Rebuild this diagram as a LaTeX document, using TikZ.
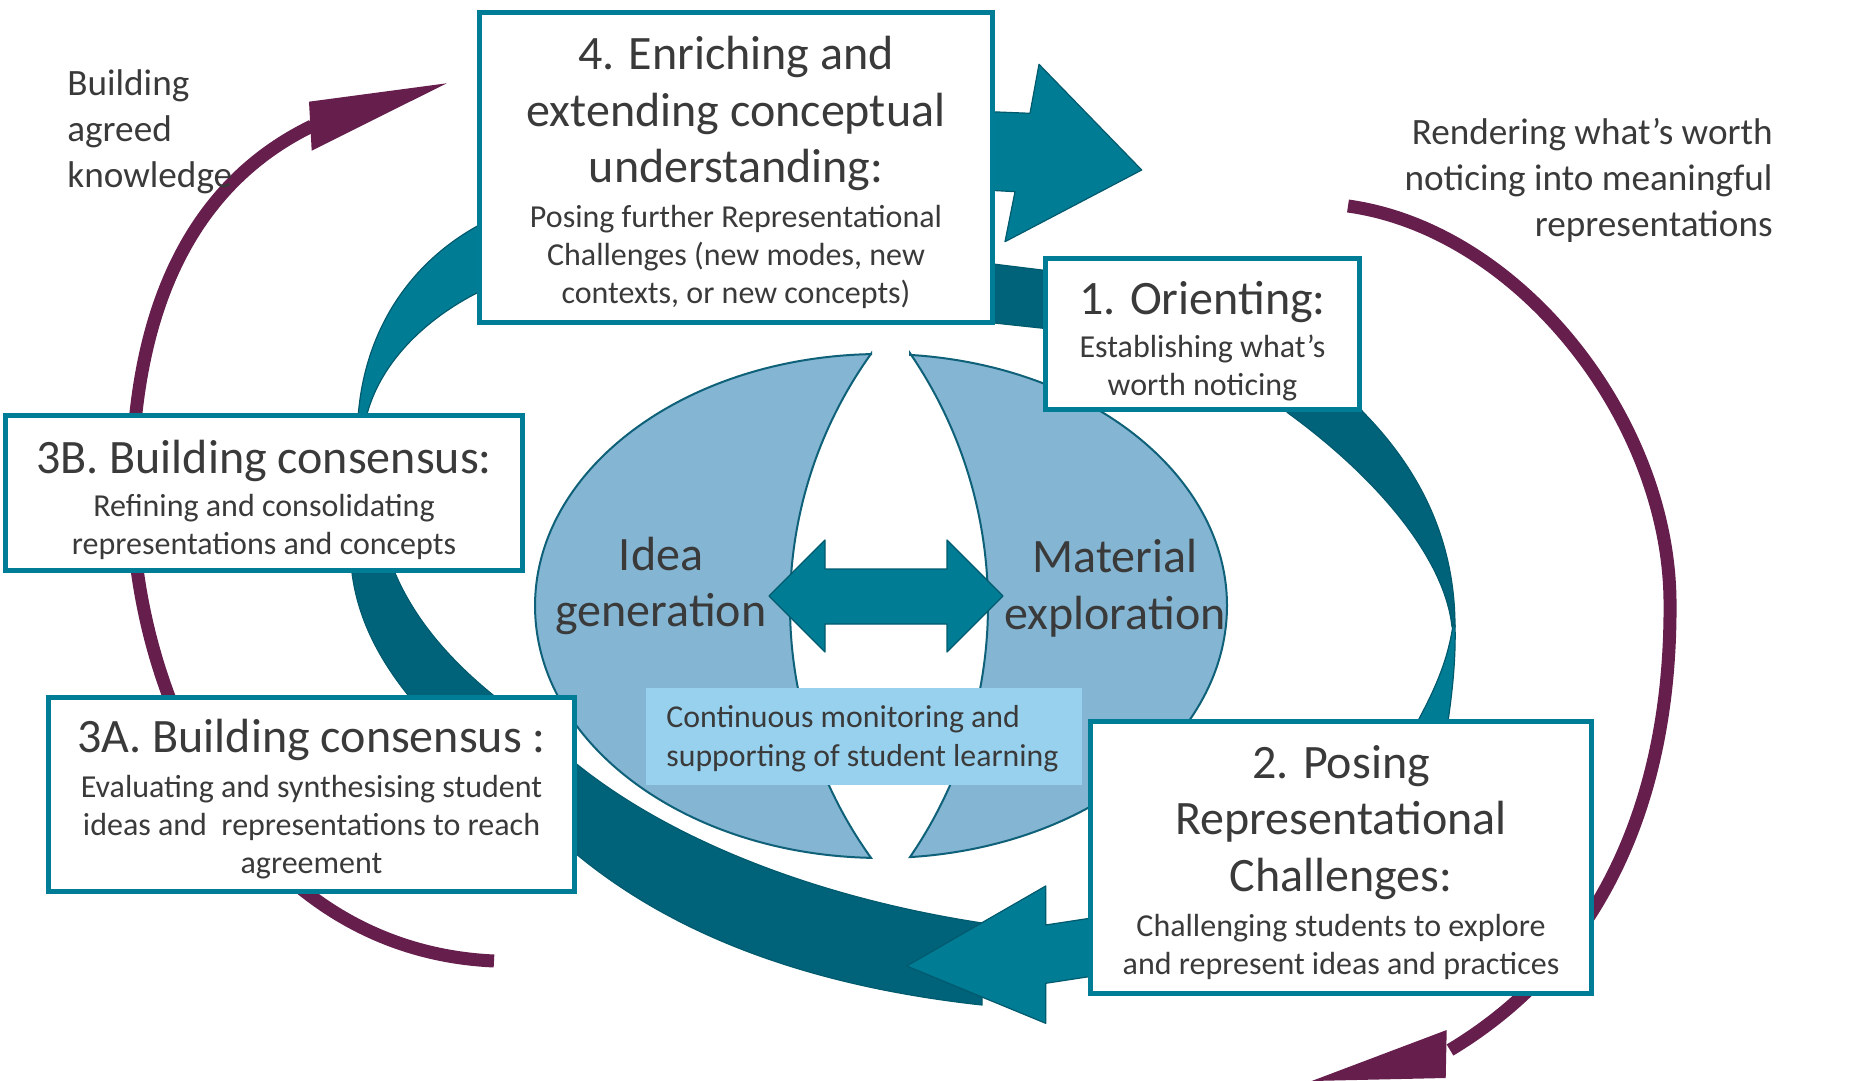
\documentclass[tikz,border=0pt]{standalone}
\usepackage{fontspec}
\setmainfont{Carlito}
\definecolor{tealM}{HTML}{007C95}
\definecolor{tealD}{HTML}{00637A}
\definecolor{tealE}{HTML}{005A6E}
\definecolor{boxT}{HTML}{007D96}
\definecolor{ellF}{HTML}{84B5D2}
\definecolor{ellE}{HTML}{0E6178}
\definecolor{labF}{HTML}{97D1EE}
\definecolor{purp}{HTML}{661E4C}
\definecolor{txtG}{HTML}{3A3A3A}
\newcommand\fTitle{\fontsize{24}{28.25}\selectfont}
\newcommand\fSub{\fontsize{16}{19}\selectfont}
\newcommand\fSide{\fontsize{18.6}{23}\selectfont}
\newcommand\fLab{\fontsize{15.9}{19.5}\selectfont}
\begin{document}
\begin{tikzpicture}[x=0.5pt,y=-0.5pt,
  stagebox/.style={draw=boxT, line width=2.5pt, fill=white, inner sep=0pt, rectangle},
  txt/.style={align=center, inner sep=0pt, text=txtG},
  ribL/.style={fill=tealM, draw=tealE, line width=0.6pt, line join=round},
  ribD/.style={fill=tealD, draw=tealE, line width=0.6pt, line join=round},
  purpline/.style={draw=purp, line width=6.5pt, line cap=butt},
  purphead/.style={fill=purp},
  piece/.style={fill=ellF, draw=ellE, line width=1pt},
]
\useasboundingbox (0,0) rectangle (1864,1081);
\clip (0,0) rectangle (1864,1081);

% purple arcs
\coordinate (pLtail) at (494,961);
\coordinate (pLend) at (312,126);
\draw[purpline] (pLtail) .. controls (250,950) and (134,700) .. (132,500) .. controls (130,330) and (180,190) .. (pLend);
\fill[purphead] (309,101.7) -- (446.7,83.3) -- (311.7,150.7) -- cycle;
\coordinate (pRtail) at (1348,206);
\coordinate (pRend) at (1450,1050);
\draw[purpline] (pRtail) .. controls (1520,230) and (1668,420) .. (1670,600) .. controls (1672,800) and (1600,960) .. (pRend);
\fill[purphead] (1446.7,1030) -- (1311.7,1081) -- (1445.7,1078) -- cycle;

% teal ribbons
\path[ribL] (358,418) .. controls (365,320) and (420,255) .. (485,222) -- (485,289) .. controls (430,315) and (380,360) .. (366,418) -- cycle;
\path[ribL] (985,111.5) -- (1030,113.3) -- (1039,64.3) -- (1141.7,170) -- (1005,241.7) -- (1015,191.7) -- (985,190) -- cycle;
\path[ribD] (985,263) -- (1050,271) -- (1050,329) -- (985,322) -- cycle;
\path[ribD] (1358,405) -- (1363,412) .. controls (1420,470) and (1455,540) .. (1455,627) -- (1452,627) .. controls (1445,560) and (1380,480) .. (1288,413) -- (1280,405) -- cycle;
\path[ribL] (1453,625) .. controls (1448,660) and (1435,690) .. (1414,728) -- (1447,728) .. controls (1452,695) and (1456,660) .. (1455,625) -- cycle;
\path[ribD] (351,565) -- (352,573) .. controls (358,620) and (380,660) .. (408,695) -- (416,705) -- (505,705) -- (493,695) .. controls (450,660) and (415,620) .. (395,573) -- (394,565) -- cycle;
\path[ribD] (560,750) .. controls (650,830) and (800,895) .. (982,923) -- (982,1005) .. controls (800,985) and (660,930) .. (560,840) -- cycle;
\path[ribL] (1100,916.7) -- (1045.7,925) -- (1045.7,886) -- (906.7,966) -- (1045.7,1023.3) -- (1045.7,983.3) -- (1100,975) -- cycle;

% central ellipse pieces
\path[piece] (871,354.1) arc[start angle=268.34, end angle=91.66, x radius=346, y radius=252] arc[start angle=144.36, end angle=215.64, radius=432.5] -- cycle;
\path[piece] (910,354.9) arc[start angle=-85.19, end angle=85.19, x radius=346, y radius=252] arc[start angle=34.4, end angle=-34.4, radius=446] -- cycle;

% double arrow
\path[ribL] (769,596) -- (825,540) -- (825,569) -- (947,569) -- (947,540) -- (1003,596) -- (947,652) -- (947,624) -- (825,624) -- (825,652) -- cycle;

\node[txt, font=\fTitle] (idea) at (661,586) {Idea\\generation};
\node[txt, font=\fTitle] (mat) at (1115,588) {Material\\exploration};

% label box
\node[fill=labF, minimum width=218pt, minimum height=48.5pt, inner sep=0pt] (lab) at (864,736.5) {};
\node[txt, align=left, anchor=west, font=\fLab] (labt) at (666,739) {Continuous monitoring and\\supporting of student learning};

% stage boxes
\node[stagebox, minimum width=256.5pt, minimum height=155pt] (b4) at (736,167.5) {};
\node[stagebox, minimum width=157pt, minimum height=75.5pt] (b1) at (1202.5,334) {};
\node[stagebox, minimum width=258.5pt, minimum height=77.5pt] (b3B) at (264,493) {};
\node[stagebox, minimum width=263pt, minimum height=97pt] (b3A) at (311.5,794.5) {};
\node[stagebox, minimum width=250.5pt, minimum height=136pt] (b2) at (1341,857.5) {};

\node[txt, font=\fTitle] (t4) at (736,113.5) {4. Enriching and\\extending conceptual\\understanding:};
\node[txt, font=\fSub] (s4) at (736,256.5) {Posing further Representational\\Challenges (new modes, new\\contexts, or new concepts)};
\node[txt, font=\fTitle] (t1) at (1202.5,302) {1. Orienting:};
\node[txt, font=\fSub] (s1) at (1202.5,368) {Establishing what’s\\worth noticing};
\node[txt, font=\fTitle] (t3B) at (264,461) {3B. Building consensus:};
\node[txt, font=\fSub] (s3B) at (264,527) {Refining and consolidating\\representations and concepts};
\node[txt, font=\fTitle] (t3A) at (311.5,740) {3A. Building consensus :};
\node[txt, font=\fSub] (s3A) at (311.5,827) {Evaluating and synthesising student\\ideas and\ \ representations to reach\\agreement};
\node[txt, font=\fTitle] (t2) at (1341,822.5) {2. Posing\\Representational\\Challenges:};
\node[txt, font=\fSub] (s2) at (1341,947) {Challenging students to explore\\and represent ideas and practices};

\node[txt, align=left, anchor=west, font=\fSide] (sideL) at (67,131.5) {Building\\agreed\\knowledge};
\node[txt, align=right, anchor=east, font=\fSide] (sideR) at (1773,180) {Rendering what’s worth\\noticing into meaningful\\representations};
\end{tikzpicture}
\end{document}
